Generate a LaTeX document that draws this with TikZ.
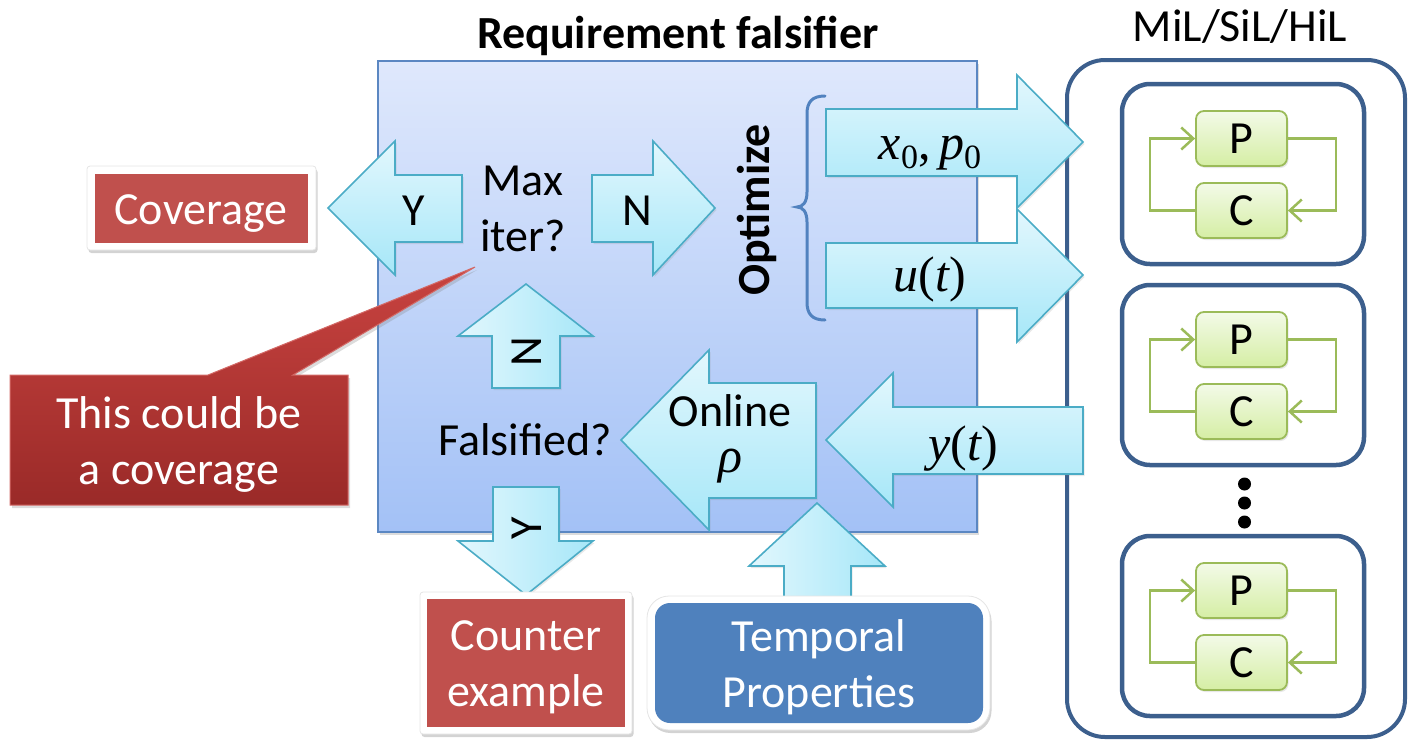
\documentclass[tikz,border=0pt]{standalone}
\usepackage{fontspec}
\setmainfont{Carlito}
\newfontfamily\mathserif{Liberation Serif}
\usetikzlibrary{arrows.meta,shadows}

\definecolor{arrTop}{HTML}{E2F7FD}
\definecolor{arrBot}{HTML}{A6E7F8}
\definecolor{arrLine}{HTML}{4BACC6}
\definecolor{panelTop}{HTML}{DFE8FC}
\definecolor{panelBot}{HTML}{A3C1F6}
\definecolor{panelLine}{HTML}{5B87C2}
\definecolor{redFill}{HTML}{C0504D}
\definecolor{blueFill}{HTML}{4F81BD}
\definecolor{calloutTop}{HTML}{C84340}
\definecolor{calloutBot}{HTML}{9A2A28}
\definecolor{frameLine}{HTML}{3C5F8D}
\definecolor{plantTop}{HTML}{F3FAE8}
\definecolor{plantBot}{HTML}{D5EEA4}
\definecolor{plantLine}{HTML}{9BBB59}
\definecolor{braceLine}{HTML}{5182BF}

\newcommand{\diagfont}{\fontsize{46}{56}\selectfont}
\newcommand{\symfont}{\fontsize{50}{56}\selectfont\mathserif}
% italic variable, upright delimiter, lowered index
\newcommand{\mv}[1]{{\symfont\itshape #1}}
\newcommand{\up}[1]{{\symfont #1}}
\newcommand{\lowidx}[1]{\raisebox{-9pt}{\fontsize{34}{34}\selectfont\mathserif #1}}

\begin{document}
\begin{tikzpicture}[x=1pt,y=-1pt,
  every node/.style={font=\diagfont, inner sep=0pt, align=center},
  softshadow/.style={drop shadow={opacity=0.28, shadow xshift=2pt, shadow yshift=-3pt}},
  lightshadow/.style={drop shadow={opacity=0.18, shadow xshift=1.5pt, shadow yshift=-2pt}},
  hshade/.style={draw=arrLine, line width=1.6pt, line join=miter,
    top color=arrTop, bottom color=arrBot, lightshadow},
  vshade/.style={draw=arrLine, line width=1.6pt, line join=miter,
    left color=arrTop, right color=arrBot, lightshadow},
  mount/.style={fill=white, draw=black!10, line width=0.8pt, rounded corners=3pt,
    drop shadow={opacity=0.35, shadow xshift=1.5pt, shadow yshift=-3pt}},
  groupframe/.style={draw=frameLine, line width=4.5pt, rounded corners=28pt,
    minimum width=242pt, minimum height=180pt},
  plantbox/.style={draw=plantLine, line width=1.8pt, rounded corners=8pt,
    top color=plantTop, bottom color=plantBot, minimum width=91pt,
    minimum height=55pt, lightshadow},
  loopline/.style={draw=plantLine, line width=2.5pt,
    -{Straight Barb[length=12pt,width=22pt]}},
  braceline/.style={draw=braceLine, line width=3pt, line cap=round},
]
\useasboundingbox (0,0) rectangle (1411,740);

% test-bench frame on the right
\node[draw=frameLine, line width=4pt, rounded corners=38pt,
  minimum width=338pt, minimum height=677pt] (bench) at (1236,398.5) {};
\node[anchor=base] (benchtitle) at (1240,41) {MiL/SiL/HiL};

% falsifier panel
\node[draw=panelLine, line width=1.5pt, top color=panelTop, bottom color=panelBot,
  minimum width=599pt, minimum height=471pt, softshadow] (panel) at (677.5,296.5) {};
\node[anchor=base, font=\diagfont\bfseries] (paneltitle) at (678,48) {Requirement falsifier};

% brace grouping the optimizer outputs
\draw[braceline] (825,96) .. controls (812,96) and (807,102) .. (807,114)
  -- (807,192) .. controls (807,202) and (803,207) .. (797,207)
  .. controls (803,207) and (807,212) .. (807,222)
  -- (807,302) .. controls (807,314) and (812,320) .. (825,320);
\node[font=\diagfont\bfseries, rotate=90] (optimize) at (757,210) {Optimize};

% block arrows
\path[hshade] (328,208) -- (395,141) -- (395,175) -- (462,175) -- (462,242)
  -- (395,242) -- (395,275) -- cycle;
\path[hshade] (592,175) -- (653,175) -- (653,141) -- (715,208) -- (653,275)
  -- (653,242) -- (592,242) -- cycle;
\path[vshade] (492,388) -- (492,336) -- (458,336) -- (526,284) -- (593,336)
  -- (560,336) -- (560,388) -- cycle;
\path[vshade] (493,487) -- (559,487) -- (559,541) -- (593,541) -- (526,595)
  -- (458,541) -- (493,541) -- cycle;
\path[hshade] (621,440) -- (709,350) -- (709,383) -- (816,383) -- (816,498)
  -- (709,498) -- (709,530) -- cycle;
\path[hshade] (826,440) -- (893,373) -- (893,407) -- (1083,407) -- (1083,474)
  -- (893,474) -- (893,507) -- cycle;
\path[vshade] (784,612) -- (784,566) -- (749,566) -- (817,503) -- (885,566)
  -- (851,566) -- (851,612) -- cycle;
\path[hshade] (826,109) -- (1017,109) -- (1017,75) -- (1083,142) -- (1017,208)
  -- (1017,176) -- (826,176) -- cycle;
\path[hshade] (826,243) -- (1017,243) -- (1017,209) -- (1083,275) -- (1017,342)
  -- (1017,308) -- (826,308) -- cycle;

% arrow labels and decisions
\node[anchor=base] (yesmax) at (414,225) {Y};
\node (maxiter) at (523,209) {Max\\iter?};
\node[anchor=base] (nomax) at (637,225) {N};
\node[rotate=90] (nofals) at (527,352) {N};
\node[rotate=90] (yesfals) at (527,528) {Y};
\node (falsified) at (525,440) {Falsified?};
\node (online) at (730,439) {Online\\[-10pt]\mv{ρ}};
\node[anchor=base] (yout) at (963,460) {\mv{y}\up{(}\mv{t}\up{)}};
\node[anchor=base] (xinit) at (930,159) {\mv{x}\lowidx{0}\up{,\,}\mv{p}\lowidx{0}};
\node[anchor=base] (uin) at (930,291) {\mv{u}\up{(}\mv{t}\up{)}};

% outcome boxes on white mounts
\node[mount, minimum width=229pt, minimum height=84pt] (coveragemount) at (201.5,208) {};
\node[fill=redFill, minimum width=213pt, minimum height=69pt] (coverage) at (201.5,208.5) {};
\node[anchor=base, text=white] (coveragetext) at (201,224) {Coverage};
\node[mount, minimum width=212pt, minimum height=142pt] (countermount) at (526,663) {};
\node[fill=redFill, minimum width=198pt, minimum height=128pt] (counter) at (526,663) {};
\node[text=white] (countertext) at (526,667) {Counter\\example};
\node[mount, rounded corners=22pt, minimum width=343pt, minimum height=134pt]
  (temporalmount) at (818.5,663) {};
\node[fill=blueFill, rounded corners=15pt, minimum width=328pt,
  minimum height=120pt] (temporal) at (819,663) {};
\node[text=white] (temporaltext) at (819,667) {Temporal\\Properties};

% callout
\coordinate (calloutTip) at (475,267);
\path[draw=calloutTop!80!white, line width=1pt, top color=calloutTop,
  bottom color=calloutBot, softshadow]
  (10,375) -- (208,375) -- (calloutTip) -- (293,375) -- (348,375)
  -- (348,505) -- (10,505) -- cycle;
\node[text=white] (notetext) at (179,444) {This could be\\a coverage};

% plant / controller loops
\foreach \i/\t in {1/84,2/285,3/536} {
  \node[groupframe] (g\i) at (1243,\t+90) {};
  \node[plantbox] (p\i) at (1241.5,\t+54.5) {P};
  \node[plantbox] (c\i) at (1241.5,\t+126.5) {C};
  \draw[loopline] (c\i.west) -- ++(-45,0) |- (p\i.west);
  \draw[loopline] (p\i.east) -- ++(48,0) |- (c\i.east);
}

% vertical ellipsis between the loops
\foreach \d/\yy in {1/484,2/503,3/522}
  \fill (1244.5,\yy) circle (6.5pt) coordinate (dot\d);
\end{tikzpicture}
\end{document}
